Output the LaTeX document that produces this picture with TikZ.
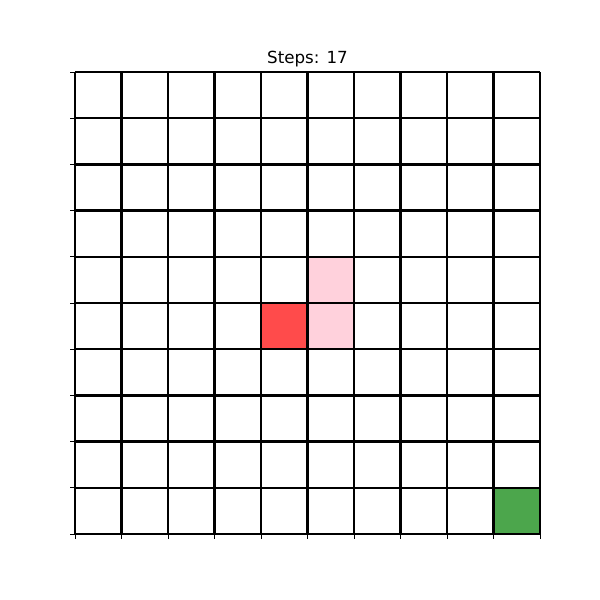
\documentclass[tikz,border=0pt]{standalone}
\usepackage{fontspec}
\setmainfont{DejaVu Sans}
\usepackage{xcolor}
\usetikzlibrary{arrows.meta}

\definecolor{agent}{HTML}{FF4B4B}
\definecolor{trail}{HTML}{FFD1DC}
\definecolor{goal}{HTML}{4CA64C}

\begin{document}
\begin{tikzpicture}[
    x=1cm,y=0.9935cm,
    every node/.style={font=\fontsize{10.2}{12}\selectfont},
    gridline/.style={line width=1.45pt,black},
    tick/.style={line width=0.5pt,black},
  ]
  \def\N{10}
  \def\T{0.105}
  \useasboundingbox (-1.613,-1.429) rectangle (11.290,11.559);

  % -- coloured cells --
  \fill[trail] (5,5) rectangle (6,6);
  \fill[trail] (5,4) rectangle (6,5);
  \fill[agent] (4,4) rectangle (5,5);
  \fill[goal] (9,0) rectangle (10,1);

  % -- the board --
  \foreach \i in {0,...,\N} {
    \draw[gridline] (\i,0) -- (\i,\N);
    \draw[gridline] (0,\i) -- (\N,\i);
    \draw[tick] (-\T,\i) -- (0,\i);
    \draw[tick] (\i,-\T) -- (\i,0);
  }

  % -- title --
  \node[anchor=base] (title) at (5,10.18) {Steps: 17};
\end{tikzpicture}
\end{document}
